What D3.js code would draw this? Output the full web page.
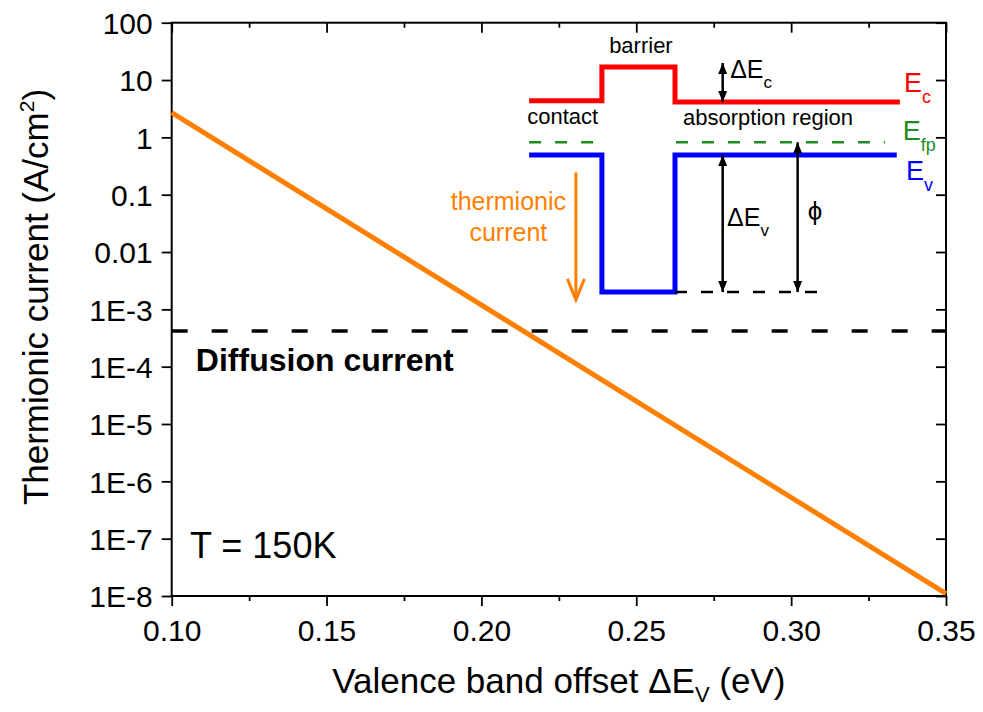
<!DOCTYPE html>
<html><head><meta charset="utf-8">
<script src="https://cdn.jsdelivr.net/npm/d3@7"></script>
<style>body{margin:0;background:#fff} text{font-family:"Liberation Sans",Arial,Helvetica,sans-serif}</style>
</head><body><svg id="c" width="983" height="712"></svg>
<script>
// ---------- data ----------
const xTickValues = [0.10, 0.15, 0.20, 0.25, 0.30, 0.35];
const xTickLabels = ["0.10", "0.15", "0.20", "0.25", "0.30", "0.35"];
const xMinorTickValues = [0.125, 0.175, 0.225, 0.275, 0.325];
const yTickValues = [100, 10, 1, 0.1, 0.01, 1e-3, 1e-4, 1e-5, 1e-6, 1e-7, 1e-8];
const yTickLabels = ["100", "10", "1", "0.1", "0.01", "1E-3", "1E-4", "1E-5", "1E-6", "1E-7", "1E-8"];

const valenceOffset = [0.10, 0.35];          // eV
const thermionicCurrent = [2.7, 1.1e-8];      // A/cm^2
const diffusionCurrent = 4.2e-4;              // A/cm^2

// inset band diagram, expressed in plot units (eV, A/cm^2)
const ecX = [0.2154, 0.2389, 0.2389, 0.2625, 0.2625, 0.3351];
const ecY = [4.36, 4.36, 16.9, 16.9, 4.14, 4.14];
const evX = [0.2154, 0.2389, 0.2389, 0.2625, 0.2625, 0.3341];
const evY = [0.49, 0.49, 2.0e-3, 2.0e-3, 0.49, 0.49];
const efpStart = [0.2154, 0.2628];
const efpEnd = [0.2373, 0.3303];
const efpLevel = 0.82;
const refLineX = [0.2625, 0.3100];
const refLevel = 2.0e-3;
const dblArrowX = [0.2779, 0.2779, 0.3021];
const dblArrowTop = [19.8, 0.49, 0.82];
const dblArrowBottom = [4.14, 2.0e-3, 2.0e-3];
const thermArrowX = 0.2305;
const thermArrowFrom = 0.245, thermArrowTo = 1.46e-3;

// ---------- layout ----------
const svg = d3.select("#c");
const L = 171.7, R = 946, T = 22.7, B = 596;
const x = d3.scaleLinear().domain([0.10, 0.35]).range([L, R]);
const y = d3.scaleLog().domain([1e-8, 100]).range([B, T]);
const FONT = '"Liberation Sans",Arial,sans-serif';

const defs = svg.append("defs");
defs.append("marker").attr("id", "ah").attr("viewBox", "0 -5 11 10")
  .attr("refX", 11).attr("refY", 0).attr("markerWidth", 11).attr("markerHeight", 10)
  .attr("markerUnits", "userSpaceOnUse").attr("orient", "auto-start-reverse")
  .append("path").attr("d", "M0,-4.5L11,0L0,4.5Z").attr("fill", "#000");
defs.append("marker").attr("id", "oh").attr("viewBox", "-2 -10 26 20")
  .attr("refX", 21).attr("refY", 0).attr("markerWidth", 26).attr("markerHeight", 20)
  .attr("markerUnits", "userSpaceOnUse").attr("orient", "auto")
  .append("path").attr("d", "M0,-8.5L21,0L0,8.5").attr("fill", "none")
  .attr("stroke", "#ff8000").attr("stroke-width", 3);

// ---------- axes ----------
function styleAxis(g) {
  g.select(".domain").remove();
  g.selectAll(".tick line").attr("stroke", "#000").attr("stroke-width", 1.8);
  g.selectAll(".tick text").attr("fill", "#000").style("font-family", FONT);
}
const yMinor = y.ticks().filter(v => Math.abs(Math.log10(v) - Math.round(Math.log10(v))) > 1e-6);

svg.append("g").attr("transform", `translate(0,${B})`)
  .call(d3.axisBottom(x).tickValues(xTickValues).tickSize(10).tickPadding(14)
    .tickFormat((d, i) => xTickLabels[i]))
  .call(styleAxis).call(g => g.selectAll("text").style("font-size", "30px"));
svg.append("g").attr("transform", `translate(0,${B})`)
  .call(d3.axisBottom(x).tickValues(xMinorTickValues).tickSize(5).tickFormat(""))
  .call(styleAxis);
svg.append("g").attr("transform", `translate(0,${T})`)
  .call(d3.axisBottom(x).tickValues(xTickValues).tickSize(10).tickFormat(""))
  .call(styleAxis);
svg.append("g").attr("transform", `translate(0,${T})`)
  .call(d3.axisBottom(x).tickValues(xMinorTickValues).tickSize(5).tickFormat(""))
  .call(styleAxis);

svg.append("g").attr("transform", `translate(${L},0)`)
  .call(d3.axisLeft(y).tickValues(yTickValues).tickSize(10).tickPadding(9)
    .tickFormat((d, i) => yTickLabels[i]))
  .call(styleAxis).call(g => g.selectAll("text").style("font-size", "30px").attr("dy", "0.36em"));
svg.append("g").attr("transform", `translate(${L},0)`)
  .call(d3.axisLeft(y).tickValues(yMinor).tickSize(5).tickFormat(""))
  .call(styleAxis);
svg.append("g").attr("transform", `translate(${R},0)`)
  .call(d3.axisLeft(y).tickValues(yTickValues).tickSize(10).tickFormat(""))
  .call(styleAxis);
svg.append("g").attr("transform", `translate(${R},0)`)
  .call(d3.axisLeft(y).tickValues(yMinor).tickSize(5).tickFormat(""))
  .call(styleAxis);

svg.append("rect").attr("x", L).attr("y", T).attr("width", R - L).attr("height", B - T)
  .attr("fill", "none").attr("stroke", "#000").attr("stroke-width", 2);

// axis titles
const xt = svg.append("text").attr("x", (L + R) / 2).attr("y", 693)
  .attr("text-anchor", "middle").style("font-size", "35px").attr("fill", "#000");
xt.append("tspan").text("Valence band offset ΔE");
xt.append("tspan").text("V").style("font-size", "22px").attr("dy", 9);
xt.append("tspan").text(" (eV)").attr("dy", -9);

const yt = svg.append("text").attr("transform", "translate(48,297) rotate(-90)")
  .attr("text-anchor", "middle").style("font-size", "35px").attr("fill", "#000");
yt.append("tspan").text("Thermionic current (A/cm");
yt.append("tspan").text("2").style("font-size", "21px").attr("dy", -14);
yt.append("tspan").text(")").attr("dy", 14);

// ---------- main data ----------
svg.append("line")
  .attr("x1", x(valenceOffset[0])).attr("x2", x(valenceOffset[1]))
  .attr("y1", y(diffusionCurrent)).attr("y2", y(diffusionCurrent))
  .attr("stroke", "#000").attr("stroke-width", 3.5).attr("stroke-dasharray", "16,24");

const pts = valenceOffset.map((v, i) => [v, thermionicCurrent[i]]);
svg.append("path").datum(pts)
  .attr("d", d3.line().x(d => x(d[0])).y(d => y(d[1])))
  .attr("fill", "none").attr("stroke", "#ff8000").attr("stroke-width", 5);

// ---------- inset band diagram ----------
const line = d3.line().x(d => x(d[0])).y(d => y(d[1]));
svg.append("path").datum(ecX.map((v, i) => [v, ecY[i]])).attr("d", line)
  .attr("fill", "none").attr("stroke", "#ff0000").attr("stroke-width", 5);
svg.append("path").datum(evX.map((v, i) => [v, evY[i]])).attr("d", line)
  .attr("fill", "none").attr("stroke", "#0000ff").attr("stroke-width", 5);
efpStart.forEach((s, i) => {
  svg.append("line").attr("x1", x(s)).attr("x2", x(efpEnd[i]))
    .attr("y1", y(efpLevel)).attr("y2", y(efpLevel))
    .attr("stroke", "#1e8c1e").attr("stroke-width", 2.5).attr("stroke-dasharray", "12,14");
});
svg.append("line").attr("x1", x(refLineX[0])).attr("x2", x(refLineX[1]))
  .attr("y1", y(refLevel)).attr("y2", y(refLevel))
  .attr("stroke", "#000").attr("stroke-width", 2.5).attr("stroke-dasharray", "12,14");
dblArrowX.forEach((v, i) => {
  svg.append("line").attr("x1", x(v)).attr("x2", x(v))
    .attr("y1", y(dblArrowTop[i])).attr("y2", y(dblArrowBottom[i]))
    .attr("stroke", "#000").attr("stroke-width", 2.5)
    .attr("marker-start", "url(#ah)").attr("marker-end", "url(#ah)");
});
svg.append("line").attr("x1", x(thermArrowX)).attr("x2", x(thermArrowX))
  .attr("y1", y(thermArrowFrom)).attr("y2", y(thermArrowTo))
  .attr("stroke", "#ff8000").attr("stroke-width", 3).attr("marker-end", "url(#oh)");

// ---------- labels (anchored in plot units) ----------
function label(xv, yv, parts, opts = {}) {
  const t = svg.append("text").attr("x", x(xv)).attr("y", y(yv))
    .attr("text-anchor", opts.anchor || "start").attr("fill", opts.color || "#000")
    .style("font-size", (opts.size || 22) + "px");
  if (opts.weight) t.style("font-weight", opts.weight);
  let cur = 0;
  parts.forEach(p => {
    const s = t.append("tspan").text(p.t);
    const dy = (p.dy || 0) - cur;
    if (dy) s.attr("dy", dy);
    cur = p.dy || 0;
    if (p.size) s.style("font-size", p.size + "px");
  });
  return t;
}
label(0.2515, 30.0, [{t: "barrier"}], {anchor: "middle"});
label(0.2148, 1.73, [{t: "contact"}]);
label(0.2651, 1.64, [{t: "absorption region"}]);
label(0.2803, 10.8, [{t: "ΔE"}, {t: "c", dy: 10, size: 17}], {size: 25});
label(0.2793, 0.028, [{t: "ΔE"}, {t: "v", dy: 10, size: 17}], {size: 25});
label(0.3054, 0.0362, [{t: "ϕ"}], {size: 26});
label(0.3364, 6.08, [{t: "E"}, {t: "c", dy: 11, size: 18}], {color: "#ff0000", size: 27});
label(0.3360, 0.90, [{t: "E"}, {t: "fp", dy: 11, size: 18}], {color: "#1e8c1e", size: 27});
label(0.3371, 0.18, [{t: "E"}, {t: "v", dy: 11, size: 18}], {color: "#0000ff", size: 27});
label(0.2087, 0.054, [{t: "thermionic"}], {anchor: "middle", color: "#ff8000", size: 25});
label(0.2087, 0.0156, [{t: "current"}], {anchor: "middle", color: "#ff8000", size: 25});
label(0.1078, 8.5e-5, [{t: "Diffusion current"}], {size: 32, weight: "bold"});
label(0.1059, 4.6e-8, [{t: "T = 150K"}], {size: 36});
</script></body></html>
